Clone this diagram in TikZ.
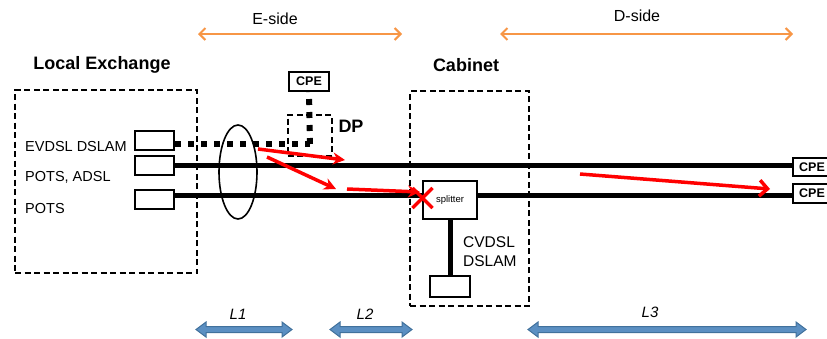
\documentclass[tikz,border=0pt]{standalone}
\usepackage{fontspec}
\setmainfont{Liberation Sans}
\usetikzlibrary{arrows.meta,shapes.geometric}
\definecolor{sideorange}{HTML}{F79646}
\definecolor{pathred}{HTML}{FF0000}
\definecolor{lenfill}{HTML}{5B8FC2}
\definecolor{lenedge}{HTML}{41719C}
% block double arrow marking a loop length: from x1 to x2 at height y
\newcommand{\lenarrow}[3]{%
  \fill[lenfill,draw=lenedge,line width=1pt,line join=miter]
    (#1,#3) -- (#1+10,#3-7.5) -- (#1+10,#3-3) -- (#2-10,#3-3) -- (#2-10,#3-7.5)
    -- (#2,#3) -- (#2-10,#3+7.5) -- (#2-10,#3+3) -- (#1+10,#3+3) -- (#1+10,#3+7.5) -- cycle;}
\tikzset{
  lbl/.style={font=\fontsize{14.5}{16}\selectfont,inner sep=0pt},
  head/.style={font=\fontsize{18}{21}\selectfont\bfseries,inner sep=0pt},
  site/.style={draw,line width=2pt,dash pattern=on 6pt off 3.5pt},
  port/.style={draw,line width=2pt,fill=white,minimum width=39pt,minimum height=19pt,inner sep=0pt},
  cpebox/.style={draw,line width=2pt,fill=white,inner sep=0pt,font=\fontsize{12.5}{14}\selectfont\bfseries},
  loop/.style={line width=5pt},
  dotloop/.style={line width=6pt,dash pattern=on 6pt off 7pt},
  sidearrow/.style={sideorange,line width=2pt,{Straight Barb[length=6pt,width=12pt]}-{Straight Barb[length=6pt,width=12pt]}},
  fault/.style={pathred,line width=3.5pt,-{Stealth[length=12pt,width=12pt]}},
  faultopen/.style={pathred,line width=3.5pt,-{Straight Barb[length=8pt,width=16pt,line width=3.5pt]}},
  lenlbl/.style={font=\fontsize{15}{17}\selectfont\itshape,inner sep=0pt},
}
\begin{document}
\begin{tikzpicture}[x=1pt,y=-1pt]
\useasboundingbox (0,0) rectangle (827,338);

% E-side / D-side spans
\node[lbl,font=\fontsize{16}{18}\selectfont] (eside) at (275,19) {E-side};
\node[lbl,font=\fontsize{16}{18}\selectfont] (dside) at (637,16) {D-side};
\coordinate (e1) at (198,34); \coordinate (e2) at (402,34);
\coordinate (d1) at (500,34); \coordinate (d2) at (793,34);
\draw[sidearrow] (e1) -- (e2);
\draw[sidearrow] (d1) -- (d2);

% site headings
\node[head] (lehead) at (102,65) {Local Exchange};
\node[head] (cabhead) at (466,65) {Cabinet};

% site enclosures
\node[site,minimum width=182pt,minimum height=183pt,inner sep=0pt] (le) at (106,181.5) {};
\node[site,minimum width=119pt,minimum height=215pt,inner sep=0pt] (cab) at (469.5,198.5) {};
\node[site,minimum width=44pt,minimum height=41pt,inner sep=0pt] (dp) at (309.5,135) {};
\node[head] (dplbl) at (351,126) {DP};

% binder ellipse
\node[draw,ellipse,line width=1.6pt,minimum width=38pt,minimum height=94pt,inner sep=0pt] (binder) at (238,172) {};

% exchange ports
\node[port] (p1) at (154.5,140) {};
\node[port] (p2) at (154.5,165) {};
\node[port] (p3) at (154.5,199.5) {};
\node[lbl,anchor=west] (t1) at (25,147) {EVDSL DSLAM};
\node[lbl,anchor=west] (t2) at (25,177) {POTS, ADSL};
\node[lbl,anchor=west] (t3) at (25,209) {POTS};

% customer equipment
\node[cpebox,minimum width=40pt,minimum height=19pt] (cpetop) at (309,81) {CPE};
\node[cpebox,minimum width=46pt,minimum height=18pt,anchor=west] (cpe1) at (792,167) {\hspace*{-8pt}CPE};
\node[cpebox,minimum width=46pt,minimum height=19pt,anchor=west] (cpe2) at (792,193) {\hspace*{-8pt}CPE};

% cabinet equipment
\node[draw,line width=2pt,fill=white,minimum width=54pt,minimum height=38pt,inner sep=0pt,
      font=\fontsize{9.5}{11}\selectfont] (spl) at (450,200) {splitter};
\node[port,minimum width=40pt,minimum height=21pt] (cdslam) at (450,286.5) {};
\node[lbl,anchor=west,font=\fontsize{15.5}{18}\selectfont] (cv1) at (463,242) {CVDSL};
\node[lbl,anchor=west,font=\fontsize{15.5}{18}\selectfont] (cv2) at (463,261) {DSLAM};

% copper loops
\coordinate (dpdrop) at (310,144);
\draw[dotloop] (p1.east|-dpdrop) -- (dpdrop);
\draw[dotloop] (dpdrop) -- (cpetop.south);
\draw[loop] (p2.east) -- (cpe1.west|-p2.east);
\draw[loop] (p3.east|-0,195) -- (spl.west|-0,195);
\draw[loop] (spl.east|-0,195) -- (cpe2.west|-0,195);
\draw[loop] (spl.south) -- (cdslam.north);

% crosstalk paths
\coordinate (r1a) at (258,149); \coordinate (r1b) at (345,160);
\coordinate (r2a) at (267,157); \coordinate (r2b) at (336,189);
\coordinate (r3a) at (347,189); \coordinate (r3b) at (420,192);
\coordinate (r4a) at (580,174); \coordinate (r4b) at (770,189);
\draw[fault] (r1a) -- (r1b);
\draw[fault] (r2a) -- (r2b);
\draw[fault] (r3a) -- (r3b);
\draw[faultopen] (r4a) -- (r4b);
\coordinate (xmark) at (422.5,198);
\draw[pathred,line width=3.5pt] ([shift={(-10,-10)}]xmark) -- ([shift={(10,10)}]xmark)
  ([shift={(-10,10)}]xmark) -- ([shift={(10,-10)}]xmark);

% loop lengths
\lenarrow{196}{292}{329.5}
\lenarrow{330}{412}{329.5}
\lenarrow{528}{806}{329.5}
\node[lenlbl] (l1) at (238,314) {L1};
\node[lenlbl] (l2) at (365,314) {L2};
\node[lenlbl] (l3) at (650,312) {L3};
\end{tikzpicture}
\end{document}
